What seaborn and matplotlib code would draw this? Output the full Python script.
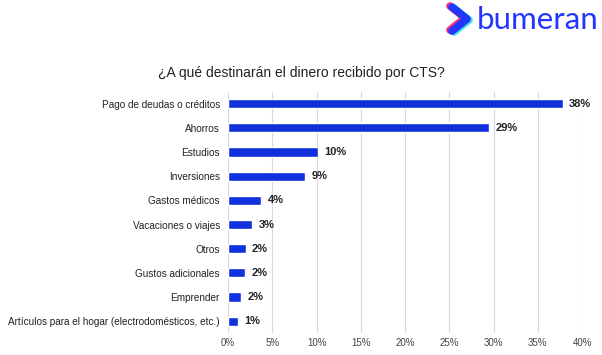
import matplotlib
matplotlib.use("Agg")
import matplotlib.pyplot as plt
import seaborn as sns
import pandas as pd

categories = [
    "Pago de deudas o créditos",
    "Ahorros",
    "Estudios",
    "Inversiones",
    "Gastos médicos",
    "Vacaciones o viajes",
    "Otros",
    "Gustos adicionales",
    "Emprender",
    "Artículos para el hogar (electrodomésticos, etc.)",
]
values = [37.8, 29.5, 10.2, 8.7, 3.75, 2.7, 2.0, 1.9, 1.5, 1.1]
value_labels = ["38%", "29%", "10%", "9%", "4%", "3%", "2%", "2%", "2%", "1%"]
x_ticks = [0, 5, 10, 15, 20, 25, 30, 35, 40]
x_tick_labels = ["0%", "5%", "10%", "15%", "20%", "25%", "30%", "35%", "40%"]
title = "¿A qué destinarán el dinero recibido por CTS?"

sns.set_theme(style="white")
plt.rcParams["font.family"] = ["Liberation Sans", "DejaVu Sans"]

df = pd.DataFrame({"categoria": categories, "valor": values})

fig = plt.figure(figsize=(6.02, 3.55), dpi=100)
ax = fig.add_axes([0.379, 0.061, 0.588, 0.681])

sns.barplot(data=df, x="valor", y="categoria", orient="h", color="#1031db",
            width=0.38, saturation=1, ax=ax, zorder=3)

ax.set_xlim(0, 40)
ax.set_xticks(x_ticks)
ax.set_xticklabels(x_tick_labels, fontsize=7, color="#444444")
ax.tick_params(axis="y", labelsize=7.2, colors="#222222", length=0, pad=6)
ax.tick_params(axis="x", length=0, pad=3.5)
ax.xaxis.grid(True, color="#d9d9d9", linewidth=0.8, zorder=0)
ax.set_axisbelow(True)
for s in ax.spines.values():
    s.set_visible(False)
ax.set_xlabel("")
ax.set_ylabel("")

ax.bar_label(ax.containers[0], labels=value_labels, padding=4.5,
             fontsize=8, fontweight="bold", color="#222222")

fig.text(0.5, 1 - 73 / 355, title, ha="center", va="center",
         fontsize=10, color="#222222")

# logo
H = 355
def px(x, y):
    return x / 602, 1 - y / H

for dx, dy, col in [(-2, -1, "#ff2d6f"), (2, 1, "#3ee6d8"), (0, 0, "#2336ff")]:
    pts = [px(452 + dx, 7 + dy), px(467 + dx, 19 + dy), px(452 + dx, 31 + dy)]
    xs = [p[0] for p in pts]
    ys = [p[1] for p in pts]
    fig.add_artist(plt.Line2D(xs, ys, transform=fig.transFigure, color=col,
                              linewidth=5.5, solid_capstyle="round",
                              solid_joinstyle="round"))

fig.text(477 / 602, 1 - 29 / H, "bumeran", ha="left", va="baseline",
         fontsize=22.5, color="#2336ff", family=["Lato", "DejaVu Sans"])

fig.savefig("out.png", dpi=100)
